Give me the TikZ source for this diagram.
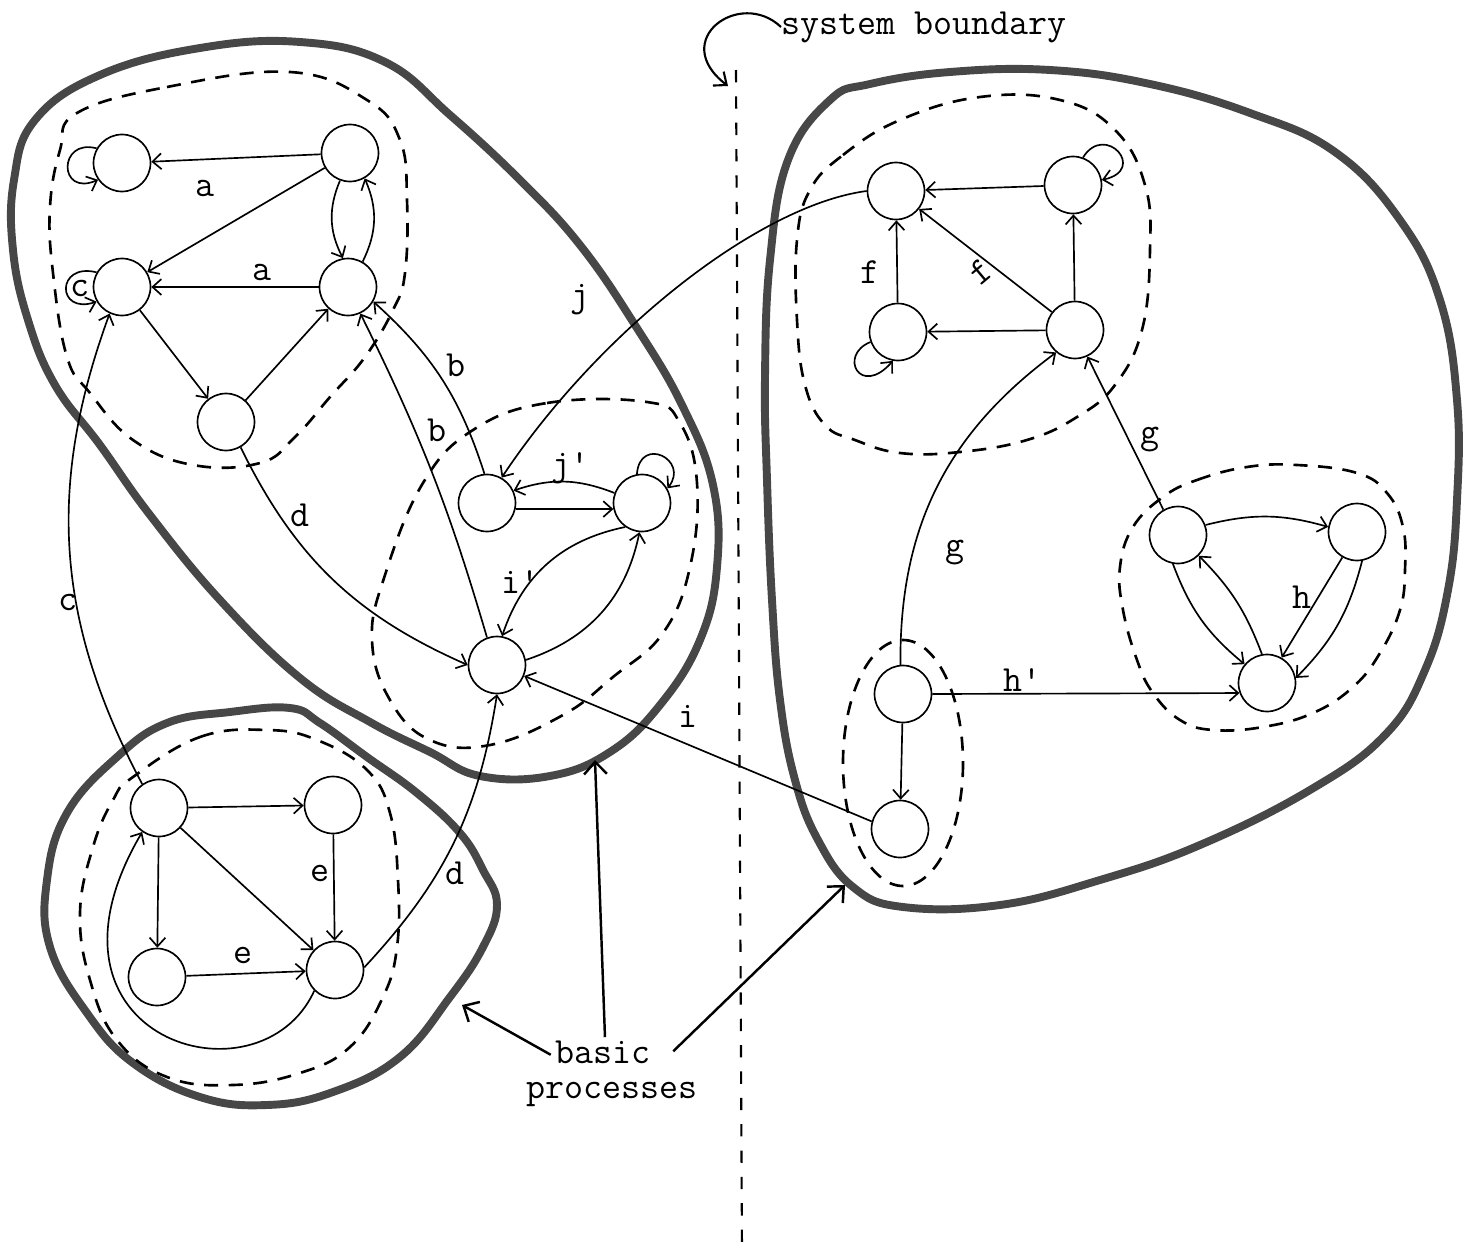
\documentclass[tikz,border=0pt]{standalone}
\usetikzlibrary{arrows.meta}
\begin{document}
\begin{tikzpicture}[x=0.02cm,y=-0.02cm,
  st/.style={circle,draw,line width=0.95pt,minimum size=1.14cm,inner sep=0pt},
  tr/.style={line width=0.95pt,-{Straight Barb[length=5pt,width=9pt,line width=0.95pt]}},
  lbl/.style={font=\fontsize{21}{20}\selectfont\ttfamily,inner sep=0pt},
  procline/.style={line width=4.5pt,draw=black!72,line join=round},
  subbox/.style={line width=1.5pt,dash pattern=on 8pt off 6pt},
  pointer/.style={line width=1.4pt,-{Straight Barb[length=7pt,width=13pt,line width=1.4pt]}},
  boundary/.style={line width=1.2pt,dash pattern=on 7pt off 8pt}]
\useasboundingbox (0,0) rectangle (1468,1251);

% ---------- basic processes (thick outlines) ----------
\draw[procline] plot[smooth cycle,tension=0.7] coordinates {
  (100,75) (200,48) (300,42) (385,62) (450,115) (520,180) (580,245) (635,325)
  (682,405) (713,485) (717,567) (700,640) (660,705) (610,752) (550,776) (480,776)
  (430,752) (370,722) (300,678) (220,600) (150,515) (100,445) (55,385) (28,320)
  (13,250) (14,180) (35,120)};
\draw[procline] plot[smooth cycle,tension=0.7] coordinates {
  (290,708) (230,712) (167,723) (117,757) (67,813) (47,880) (50,947) (87,1013)
  (133,1063) (200,1097) (267,1105) (333,1092) (400,1057) (450,997) (483,947)
  (497,905) (483,870) (460,833) (417,793) (367,757) (320,723)};
\draw[procline] plot[smooth cycle,tension=0.7] coordinates {
  (830,100) (870,84) (950,72) (1050,70) (1150,84) (1250,113) (1335,152) (1400,220)
  (1440,300) (1457,400) (1457,500) (1448,590) (1425,670) (1385,735) (1310,790)
  (1200,845) (1100,880) (1000,905) (903,907) (853,887) (818,840) (795,780)
  (780,700) (772,600) (767,480) (765,377) (770,260) (788,160)};

% ---------- sub-processes (dashed outlines) ----------
\draw[subbox] plot[smooth cycle,tension=0.7] coordinates {
  (77,113) (167,87) (290,72) (367,100) (400,140) (407,200) (405,273) (393,310)
  (365,357) (330,397) (295,437) (260,463) (193,465) (133,440) (90,393) (67,357)
  (53,273) (50,207) (60,150)};
\draw[subbox] plot[smooth cycle,tension=0.7] coordinates {
  (473,430) (547,403) (647,402) (680,423) (697,483) (690,567) (663,633) (613,677)
  (563,715) (490,745) (430,740) (390,700) (372,640) (385,575) (423,483)};
\draw[subbox] plot[smooth cycle,tension=0.7] coordinates {
  (133,777) (200,737) (267,730) (317,740) (367,770) (390,813) (398,880) (397,947)
  (383,997) (350,1047) (300,1073) (233,1085) (167,1077) (117,1040) (90,980)
  (80,913) (93,847) (113,800)};
\draw[subbox] plot[smooth cycle,tension=0.7] coordinates {
  (810,190) (843,155) (900,120) (980,97) (1060,100) (1115,130) (1145,185)
  (1150,250) (1142,330) (1115,385) (1077,417) (1027,440) (960,452) (900,453)
  (855,440) (825,425) (805,385) (797,320) (797,240)};
\draw[subbox] (903,763) ellipse [x radius=60, y radius=123];
\draw[subbox] plot[smooth cycle,tension=0.7] coordinates {
  (1163,497) (1197,480) (1247,467) (1297,465) (1357,473) (1387,493) (1403,527)
  (1405,570) (1400,610) (1380,653) (1353,687) (1313,713) (1263,727) (1213,730)
  (1180,720) (1153,693) (1137,660) (1123,610) (1120,567) (1133,527)};

% ---------- states ----------
\node[st] (A1) at (122,163) {};
\node[st] (A2) at (350,153) {};
\node[st] (A3) at (122,287) {};
\node[st] (A4) at (348,287) {};
\node[st] (A5) at (226,422) {};
\node[st] (B1) at (487,503) {};
\node[st] (B2) at (642,503) {};
\node[st] (B3) at (497,665) {};
\node[st] (E1) at (159,808) {};
\node[st] (E2) at (333,805) {};
\node[st] (E3) at (157,977) {};
\node[st] (E4) at (335,970) {};
\node[st] (F1) at (896,191) {};
\node[st] (F2) at (1073,185) {};
\node[st] (F3) at (898,332) {};
\node[st] (F4) at (1075,330) {};
\node[st] (G1) at (903,694) {};
\node[st] (G2) at (900,829) {};
\node[st] (H1) at (1178,535) {};
\node[st] (H2) at (1357,532) {};
\node[st] (H3) at (1267,683) {};

% ---------- transitions, upper-left process ----------
\draw[tr] (A2) -- (A1);
\draw[tr] (A2) -- (A3);
\draw[tr] (A4) -- (A3);
\draw[tr] (A2.250) to[bend right=25] (A4.100);
\draw[tr] (A4.60) to[bend right=25] (A2.-60);
\draw[tr] (A3) -- (A5);
\draw[tr] (A5) -- (A4);
\draw[tr] (A1.150) .. controls (58,138) and (58,197) .. (A1.215);
\draw[tr] (A3.150) .. controls (56,262) and (56,315) .. (A3.210);

\draw[tr] (B1.-12) -- (B2.192);
\draw[tr] (B2.160) to[bend right=20] (B1.25);
\draw[tr] (B2.100) .. controls (640,435) and (690,460) .. (B2.30);
\draw[tr] (B2.235) to[bend right=30] (B3.80);
\draw[tr] (B3.10) to[bend right=30] (B2.265);
\draw[tr] (F1.west) .. controls (760,205) and (600,330) .. (B1.60);
\draw[tr] (B1.95) to[bend right=15] (A4.-30);
\draw[tr] (B3.110) to[bend right=5] (A4.-65);
\draw[tr] (A5.-60) to[bend right=20] (B3.180);
\draw[tr] (E4.5) to[bend right=17] (B3.-90);
\draw[tr] (G2.165) -- (B3.-22);
\draw[tr] (E1.125) to[bend left=24] (A3.-115);

% ---------- transitions, lower-left process ----------
\draw[tr] (E1) -- (E2);
\draw[tr] (E2) -- (E4);
\draw[tr] (E1) -- (E3);
\draw[tr] (E3) -- (E4);
\draw[tr] (E1) -- (E4);
\draw[tr] (E4.225) .. controls (260,1110) and (20,1040) .. (E1.235);

% ---------- transitions, right process ----------
\draw[tr] (F2) -- (F1);
\draw[tr] (F4) -- (F2);
\draw[tr] (F4) -- (F1);
\draw[tr] (F3) -- (F1);
\draw[tr] (F4) -- (F3);
\draw[tr] (F2.70) .. controls (1105,122) and (1148,170) .. (F2.10);
\draw[tr] (F3.200) .. controls (838,355) and (860,398) .. (F3.260);
\draw[tr] (G1.95) to[bend left=27] (F4.-130);
\draw[tr] (H1.120) -- (F4.-65);
\draw[tr] (H1.20) to[bend left=15] (H2.170);
\draw[tr] (H2.240) -- (H3.60);
\draw[tr] (H2.-80) to[bend left=15] (H3.10);
\draw[tr] (H1.-100) to[bend right=15] (H3.140);
\draw[tr] (H3.100) to[bend right=12] (H1.-45);
\draw[tr] (G1.0) -- (H3.200);
\draw[tr] (G1) -- (G2);

% ---------- transition labels ----------
\node[lbl] (la1) at (205,188) {a};
\node[lbl] (la2) at (262,272) {a};
\node[lbl] (lc1) at (80,288) {c};
\node[lbl] (lb1) at (456,365) {b};
\node[lbl] (lb2) at (437,430) {b};
\node[lbl] (lj)  at (580,300) {j};
\node[lbl] (ljp) at (570,468) {j'};
\node[lbl] (lip) at (520,582) {i'};
\node[lbl] (ld1) at (300,515) {d};
\node[lbl] (lc2) at (68,602) {c};
\node[lbl] (ld2) at (455,873) {d};
\node[lbl] (le1) at (320,873) {e};
\node[lbl] (le2) at (243,955) {e};
\node[lbl] (li)  at (688,716) {i};
\node[lbl] (lf1) at (870,272) {f};
\node[lbl,rotate=40] (lf2) at (980,272) {f};
\node[lbl] (lg1) at (955,553) {g};
\node[lbl] (lg2) at (1150,440) {g};
\node[lbl] (lh)  at (1302,597) {h};
\node[lbl] (lhp) at (1022,680) {h'};

% ---------- system boundary ----------
\coordinate (sbtop) at (736,70);
\coordinate (sbbot) at (742,1251);
\draw[boundary] (sbtop) -- (sbbot);
\node[lbl,anchor=west] (sbtext) at (781,27) {system boundary};
\draw[line width=1.2pt,-{Straight Barb[length=6pt,width=10pt,line width=1.2pt]}]
  (sbtext.west) .. controls (740,-12) and (668,40) .. (728,86);

% ---------- basic processes callout ----------
\node[lbl,align=center] (bp) at (612,1074) {basic\hspace*{0.5em}\\processes};
\coordinate (p1) at (462,1005);
\coordinate (p2) at (595,760);
\coordinate (p3) at (845,885);
\draw[pointer] ([xshift=14pt,yshift=-8pt]bp.north west) -- (p1);
\draw[pointer] ([xshift=-4pt,yshift=2pt]bp.north) -- (p2);
\draw[pointer] ([xshift=-14pt,yshift=-6pt]bp.north east) -- (p3);
\end{tikzpicture}
\end{document}
